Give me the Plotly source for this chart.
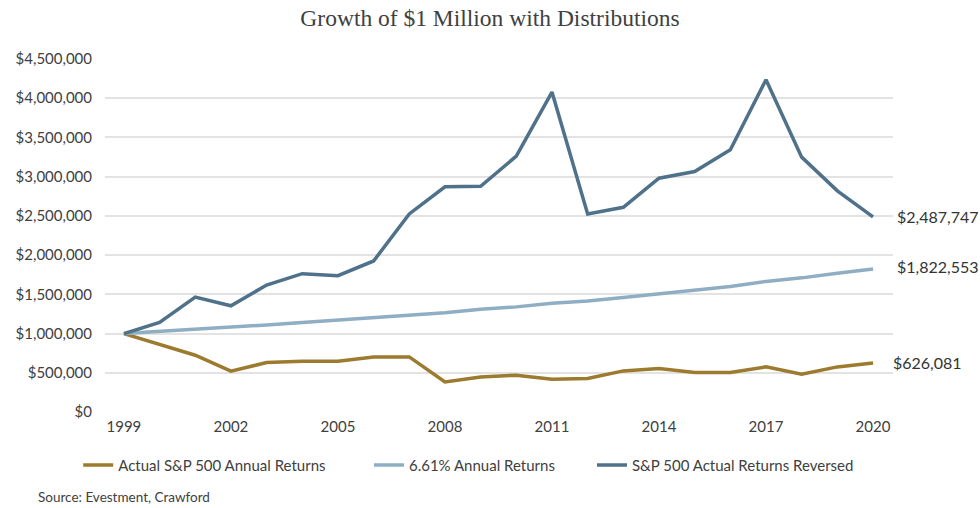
import plotly.graph_objects as go

years = list(range(1999, 2021))

actual_sp500 = [1000000, 865000, 724000, 520000, 631000, 647000, 647000, 702000, 702000,
                383000, 447000, 469000, 418000, 426000, 524000, 554000, 503000, 503000,
                575000, 481000, 575000, 626081]

fixed_661 = [1000000, 1025000, 1050000, 1080000, 1110000, 1140000, 1170000, 1200000,
             1230000, 1265000, 1310000, 1340000, 1385000, 1415000, 1460000, 1510000,
             1555000, 1600000, 1665000, 1710000, 1770000, 1822553]

reversed_sp500 = [1000000, 1142000, 1465000, 1354000, 1618000, 1763000, 1737000, 1925000,
                  2525000, 2870000, 2878000, 3262000, 4079000, 2525000, 2610000, 2981000,
                  3065000, 3342000, 4236000, 3249000, 2819000, 2487747]

series_names = ["Actual S&P 500 Annual Returns", "6.61% Annual Returns",
                "S&P 500 Actual Returns Reversed"]
colors = ["#9C7A2E", "#8FAEC3", "#4F7189"]

x_ticks = [1999, 2002, 2005, 2008, 2011, 2014, 2017, 2020]
y_ticks = [0, 500000, 1000000, 1500000, 2000000, 2500000, 3000000, 3500000, 4000000, 4500000]
y_tick_labels = ["$0", "$500,000", "$1,000,000", "$1,500,000", "$2,000,000", "$2,500,000",
                 "$3,000,000", "$3,500,000", "$4,000,000", "$4,500,000"]

end_labels = ["$626,081", "$1,822,553", "$2,487,747"]

FONT = "Lato"
legend_ids = ["legend", "legend2", "legend3"]
legend_x = [-0.034, 0.335, 0.618]

fig = go.Figure()
for name, vals, col, lid in zip(series_names, [actual_sp500, fixed_661, reversed_sp500],
                                colors, legend_ids):
    fig.add_trace(go.Scatter(x=years, y=vals, mode="lines", name=name, legend=lid,
                             line=dict(color=col, width=3.5)))

for vals, lab, ys, xs in zip([actual_sp500, fixed_661, reversed_sp500], end_labels,
                             [0, 3, 0], [18, 22, 22]):
    fig.add_annotation(x=years[-1], y=vals[-1], text=lab, showarrow=False,
                       xanchor="left", yanchor="middle", xshift=xs,
                       yshift=ys, font=dict(family=FONT, size=16, color="#333333"))

fig.add_annotation(x=0, y=0, xref="paper", yref="paper", xanchor="left", yanchor="middle",
                   text="Source: Evestment, Crawford", showarrow=False, xshift=-69, yshift=-85,
                   font=dict(family=FONT, size=13.5, color="#404040"))

legend_common = dict(orientation="h", y=-0.104, xanchor="left", yanchor="top",
                     font=dict(family=FONT, size=15, color="#404040"), itemwidth=30,
                     bgcolor="rgba(0,0,0,0)")

fig.update_layout(
    width=980, height=508,
    margin=dict(l=105, r=87, t=59, b=96),
    paper_bgcolor="white", plot_bgcolor="white",
    title=dict(text="Growth of $1 Million with Distributions", x=0.5, xanchor="center",
               y=0.965, yanchor="middle",
               font=dict(family="Liberation Serif", size=23.5, color="#404040")),
    font=dict(family=FONT, size=15, color="#404040"),
    xaxis=dict(range=[1998.47, 2020.56], tickvals=x_ticks, showgrid=False, zeroline=False,
               showline=False, ticks="", ticklabelstandoff=4,
               tickfont=dict(size=15, color="#404040")),
    yaxis=dict(range=[0, 4500000], tickvals=y_ticks, ticktext=y_tick_labels,
               showgrid=True, gridcolor="#E3E3E3", gridwidth=1.5, zeroline=False,
               ticks="", ticklabelstandoff=12, tickfont=dict(size=15, color="#404040")),
    legend=dict(x=legend_x[0], **legend_common),
    legend2=dict(x=legend_x[1], **legend_common),
    legend3=dict(x=legend_x[2], **legend_common),
    showlegend=True,
)

fig.write_html("out.html")
